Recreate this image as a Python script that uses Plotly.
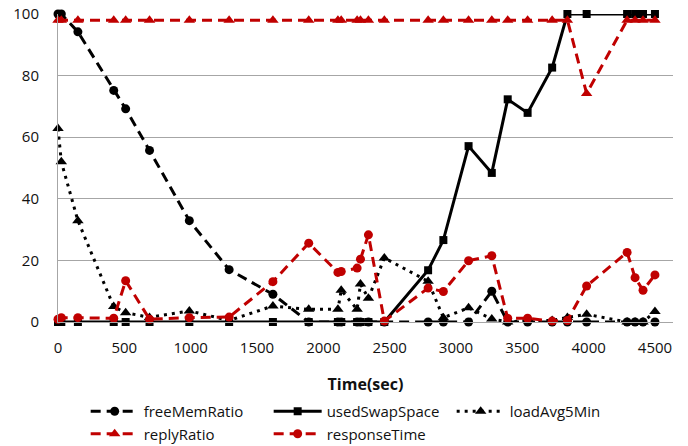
import plotly.graph_objects as go

time_sec = [0, 25, 150, 420, 510, 690, 990, 1290, 1620, 1890, 2110, 2135, 2255, 2280, 2340,
            2460, 2790, 2905, 3095, 3270, 3390, 3540, 3725, 3840, 3985, 4290, 4350, 4410, 4500]

free_mem_ratio = [100, 100, 94.2, 75.2, 69.2, 55.7, 32.9, 17.0, 9.0, 0, 0, 0, 0, 0, 0,
                  0, 0, 0, 0, 10.0, 0, 0, 0, 0, 0, 0, 0, 0, 0]
used_swap_space = [0, 0, 0, 0, 0, 0, 0, 0, 0, 0, 0, 0, 0, 0, 0,
                   0, 16.8, 26.6, 57.1, 48.4, 72.3, 67.9, 82.6, 100, 100, 100, 100, 100, 100]
load_avg_5min = [62.8, 52.0, 32.9, 5.0, 3.0, 1.5, 3.6, 0.5, 5.2, 4.1, 4.1, 10.3, 4.1, 12.3, 7.7,
                 20.8, 13.2, 1.4, 4.6, 1.0, 0, 0.5, 0.5, 1.5, 2.5, 0, 0, 0, 3.4]
reply_ratio = [98, 98, 98, 98, 98, 98, 98, 98, 98, 98, 98, 98, 98, 98, 98,
               98, 98, 98, 98, 98, 98, 98, 98, 98, 74.2, 98, 98, 98, 98]
response_time = [0.9, 1.4, 1.4, 1.2, 13.4, 0.9, 1.4, 1.6, 13.1, 25.6, 16.1, 16.4, 17.5, 20.4, 28.3,
                 0.3, 11.0, 9.9, 19.9, 21.5, 1.2, 1.2, 0.3, 0.5, 11.7, 22.6, 14.4, 10.3, 15.3]

x_ticks = [0, 500, 1000, 1500, 2000, 2500, 3000, 3500, 4000, 4500]
y_ticks = [0, 20, 40, 60, 80, 100]

BLACK = "#000000"
RED = "#C00000"
FONT = "Open Sans"

series = [
    ("freeMemRatio", free_mem_ratio, BLACK, "10px,6px", "circle", 9),
    ("usedSwapSpace", used_swap_space, BLACK, "solid", "square", 8),
    ("loadAvg5Min", load_avg_5min, BLACK, "3px,5px", "triangle-up", 10),
    ("replyRatio", reply_ratio, RED, "10px,6px", "triangle-up", 10),
    ("responseTime", response_time, RED, "10px,6px", "circle", 9),
]

fig = go.Figure()
for name, vals, color, dash, sym, size in series:
    fig.add_trace(go.Scatter(
        x=time_sec, y=vals, name=name, mode="lines+markers",
        line=dict(color=color, width=3, dash=dash),
        marker=dict(symbol=sym, size=size, color=color, line=dict(width=0)),
        cliponaxis=False,
    ))

fig.update_layout(
    width=688, height=446,
    margin=dict(l=58, r=15, t=14, b=124, autoexpand=False),
    paper_bgcolor="white", plot_bgcolor="white",
    font=dict(family=FONT, size=15, color="#111111"),
    showlegend=True,
    legend=dict(
        orientation="h", x=0.045, xanchor="left", y=-0.237, yanchor="top",
        entrywidth=120, entrywidthmode="pixels", itemwidth=48,
        font=dict(family=FONT, size=15, color="#111111"),
        tracegroupgap=0, bgcolor="rgba(0,0,0,0)",
    ),
    xaxis=dict(
        range=[0, 4636], tickvals=x_ticks, ticktext=[str(v) for v in x_ticks],
        showgrid=False, zeroline=False, showline=True, linecolor="#A6A6A6", linewidth=1,
        ticks="", automargin=False, ticklabelstandoff=12,
        tickfont=dict(family=FONT, size=15),
        title=dict(text="<b>Time(sec)</b>", font=dict(family=FONT, size=16), standoff=22),
    ),
    yaxis=dict(
        range=[0, 100], tickvals=y_ticks, showgrid=True, gridcolor="#A6A6A6", gridwidth=1,
        zeroline=False, showline=True, linecolor="#A6A6A6", linewidth=1, ticks="",
        automargin=False,
        tickfont=dict(family=FONT, size=15), ticklabelstandoff=15,
    ),
)

fig.write_html("out.html", config={"displayModeBar": False},
               post_script="document.body.style.margin='0';")
